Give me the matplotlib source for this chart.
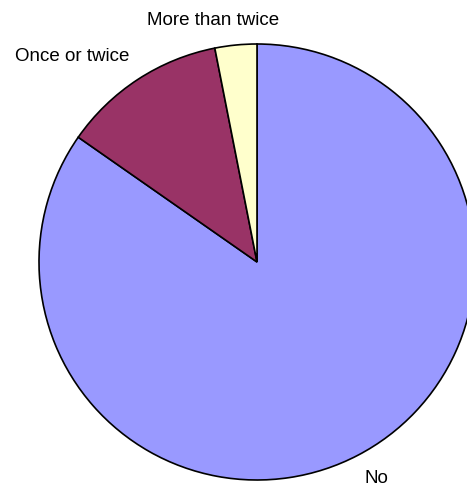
import matplotlib
matplotlib.use("Agg")
import matplotlib.pyplot as plt

categories = ["No", "Once or twice", "More than twice"]
shares = [84.7, 12.2, 3.1]
colors = ["#9999FF", "#993366", "#FFFFCC"]

# label anchor points (data units, pie radius = 1)
label_xy = {"No": (0.550, -0.995),
            "Once or twice": (-0.849, 0.943),
            "More than twice": (-0.202, 1.110)}

W, H = 467, 488
cx, cy, r = 257, 262, 218

fig = plt.figure(figsize=(W / 100, H / 100), dpi=100)
ax = fig.add_axes([0, 0, 1, 1])
ax.pie(shares, colors=colors, startangle=90, counterclock=False,
       radius=1.0, center=(0, 0),
       wedgeprops=dict(edgecolor="black", linewidth=1.2))
ax.set_xlim(-cx / r, (W - cx) / r)
ax.set_ylim((cy - H) / r, cy / r)
ax.set_aspect("auto")
ax.axis("off")

for name in categories:
    x, y = label_xy[name]
    ax.text(x, y, name, ha="center", va="center", fontsize=13.5,
            family=["Liberation Sans", "DejaVu Sans"], color="black")

fig.savefig("out.png", dpi=100)
